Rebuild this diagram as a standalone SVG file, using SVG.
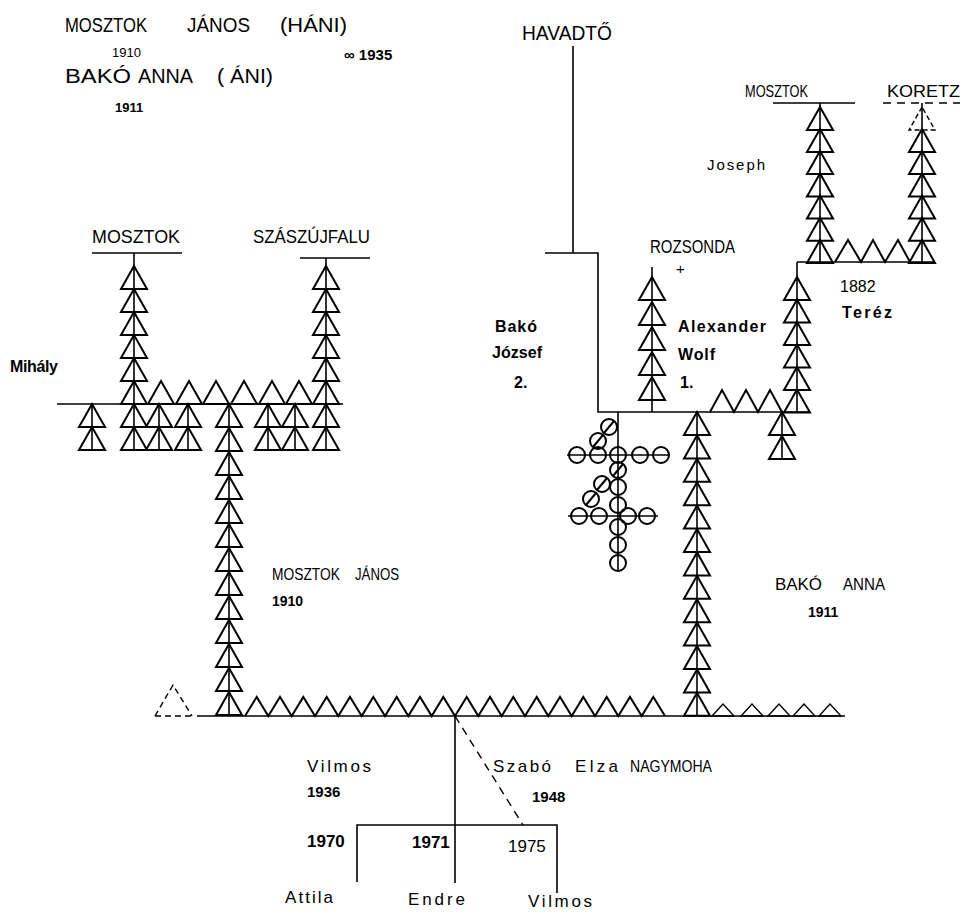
<svg xmlns="http://www.w3.org/2000/svg" width="963" height="916" viewBox="0 0 963 916">
<style>
.tx{font-family:"Liberation Sans",Arial,sans-serif;fill:#000}
.tri{fill:none;stroke:#000;stroke-width:2;stroke-linejoin:miter}
.trs{fill:none;stroke:#000;stroke-width:1.4}
.ln{fill:none;stroke:#000;stroke-width:1.6}
.dash{fill:none;stroke:#000;stroke-width:1.4;stroke-dasharray:8 6}
.cir{fill:none;stroke:#000;stroke-width:2}
</style>
<defs>
<path id="T" class="tri" d="M0,0 L-13,23 L13,23 Z"/>
<path id="Ts" class="trs" d="M0,0 L-11,12 L11,12 Z"/>
<circle id="C" class="cir" r="8"/>
<g id="CS"><circle class="cir" r="8"/><line class="cir" x1="-5" y1="6" x2="5" y2="-6"/></g>
</defs>
<rect width="963" height="916" fill="#fff"/>

<g id="title" class="tx">
<text x="65" y="32" font-size="20" textLength="82" lengthAdjust="spacingAndGlyphs">MOSZTOK</text>
<text x="187" y="32" font-size="20" textLength="63" lengthAdjust="spacingAndGlyphs">JÁNOS</text>
<text x="280" y="32" font-size="20" textLength="67" lengthAdjust="spacingAndGlyphs">(HÁNI)</text>
<text x="112" y="57" font-size="13">1910</text>
<text x="65" y="83" font-size="20" textLength="66" lengthAdjust="spacingAndGlyphs">BAKÓ</text>
<text x="138" y="83" font-size="20" textLength="55" lengthAdjust="spacingAndGlyphs">ANNA</text>
<text x="217" y="83" font-size="20" textLength="56" lengthAdjust="spacingAndGlyphs">( ÁNI)</text>
<text x="115" y="112" font-size="13" font-weight="bold">1911</text>
<text x="344" y="60" font-size="15" font-weight="bold">∞ 1935</text>
</g>

<g id="connectors">
<line class="ln" x1="57" y1="404" x2="343" y2="404"/>
<line class="ln" x1="134" y1="253" x2="134" y2="450"/>
<line class="ln" x1="326" y1="258" x2="326" y2="450"/>
<line class="ln" x1="92" y1="404" x2="92" y2="450"/>
<line class="ln" x1="159" y1="404" x2="159" y2="450"/>
<line class="ln" x1="188" y1="404" x2="188" y2="450"/>
<line class="ln" x1="268" y1="404" x2="268" y2="450"/>
<line class="ln" x1="295" y1="404" x2="295" y2="450"/>
<line class="ln" x1="229" y1="404" x2="229" y2="716"/>
<line class="ln" x1="197" y1="716" x2="845" y2="716"/>
<line class="ln" x1="697" y1="412" x2="697" y2="716"/>
<path class="ln" d="M573,46 V253 M545,253 H598 V412 H810"/>
<line class="ln" x1="652" y1="267" x2="652" y2="412"/>
<line class="ln" x1="797" y1="262" x2="797" y2="412"/>
<line class="ln" x1="782" y1="412" x2="782" y2="459"/>
<line class="ln" x1="797" y1="262" x2="935" y2="262"/>
<line class="ln" x1="820" y1="103" x2="820" y2="262"/>
<line class="ln" x1="922" y1="103" x2="922" y2="262"/>
<line class="ln" x1="618" y1="412" x2="618" y2="570"/>
<line class="ln" x1="567" y1="455" x2="669" y2="455"/>
<line class="ln" x1="568" y1="516" x2="658" y2="516"/>
<line class="ln" x1="455" y1="716" x2="455" y2="883"/>
<line class="dash" x1="455" y1="716" x2="523" y2="825"/>
<path class="ln" d="M357,882 V825 H557 V893"/>
</g>

<g id="mosztok-left">
<line class="ln" x1="92" y1="253" x2="182" y2="253"/>
<text class="tx" x="92" y="243" font-size="18" textLength="88" lengthAdjust="spacingAndGlyphs">MOSZTOK</text>
<use href="#T" x="134" y="266"/><use href="#T" x="134" y="289"/><use href="#T" x="134" y="312"/>
<use href="#T" x="134" y="335"/><use href="#T" x="134" y="358"/><use href="#T" x="134" y="381"/>
</g>

<g id="szaszujfalu">
<line class="ln" x1="300" y1="258" x2="370" y2="258"/>
<text class="tx" x="253" y="243" font-size="18" textLength="117" lengthAdjust="spacingAndGlyphs">SZÁSZÚJFALU</text>
<use href="#T" x="326" y="266"/><use href="#T" x="326" y="289"/><use href="#T" x="326" y="312"/>
<use href="#T" x="326" y="335"/><use href="#T" x="326" y="358"/><use href="#T" x="326" y="381"/>
</g>

<g id="siblings-mihaly">
<text class="tx" x="10" y="372" font-size="16" font-weight="bold" textLength="48">Mihály</text>
<use href="#T" x="161" y="381"/><use href="#T" x="189" y="381"/><use href="#T" x="216" y="381"/>
<use href="#T" x="244" y="381"/><use href="#T" x="272" y="381"/><use href="#T" x="299" y="381"/>
<use href="#T" x="92" y="404"/><use href="#T" x="92" y="427"/>
<use href="#T" x="134" y="404"/><use href="#T" x="134" y="427"/>
<use href="#T" x="159" y="404"/><use href="#T" x="159" y="427"/>
<use href="#T" x="188" y="404"/><use href="#T" x="188" y="427"/>
<use href="#T" x="268" y="404"/><use href="#T" x="268" y="427"/>
<use href="#T" x="295" y="404"/><use href="#T" x="295" y="427"/>
<use href="#T" x="326" y="404"/><use href="#T" x="326" y="427"/>
</g>

<g id="mosztok-janos">
<use href="#T" x="229" y="404"/><use href="#T" x="229" y="428"/><use href="#T" x="229" y="452"/>
<use href="#T" x="229" y="476"/><use href="#T" x="229" y="500"/><use href="#T" x="229" y="524"/>
<use href="#T" x="229" y="548"/><use href="#T" x="229" y="572"/><use href="#T" x="229" y="596"/>
<use href="#T" x="229" y="620"/><use href="#T" x="229" y="644"/><use href="#T" x="229" y="668"/>
<use href="#T" x="229" y="692"/>
<text class="tx" x="272" y="580" font-size="17" textLength="68" lengthAdjust="spacingAndGlyphs">MOSZTOK</text>
<text class="tx" x="355" y="580" font-size="17" textLength="44" lengthAdjust="spacingAndGlyphs">JÁNOS</text>
<text class="tx" x="272" y="606" font-size="14" font-weight="bold">1910</text>
</g>

<g id="generation-row">
<path class="trs" d="M155,716 L173,685 L192,716" stroke-dasharray="6 4"/>
<line class="trs" x1="155" y1="716" x2="192" y2="716" stroke-dasharray="6 4"/>
<polyline class="tri" points="245,716 256.7,697 268.3,716 280,697 291.7,716 303.3,697 315,716 326.7,697 338.3,716 350,697 361.7,716 373.3,697 385,716 396.7,697 408.3,716 420,697 431.7,716 443.3,697 455,716 466.7,697 478.3,716 490,697 501.7,716 513.3,697 525,716 536.7,697 548.3,716 560,697 571.7,716 583.3,697 595,716 606.7,697 618.3,716 630,697 641.7,716 653.3,697 665,716"/>
<use href="#Ts" x="723" y="704"/><use href="#Ts" x="752" y="704"/><use href="#Ts" x="779" y="704"/>
<use href="#Ts" x="804" y="704"/><use href="#Ts" x="830" y="704"/>
</g>

<g id="bako-anna">
<use href="#T" x="697" y="412"/><use href="#T" x="697" y="435.4"/><use href="#T" x="697" y="458.8"/>
<use href="#T" x="697" y="482.2"/><use href="#T" x="697" y="505.6"/><use href="#T" x="697" y="529"/>
<use href="#T" x="697" y="552.4"/><use href="#T" x="697" y="575.8"/><use href="#T" x="697" y="599.2"/>
<use href="#T" x="697" y="622.6"/><use href="#T" x="697" y="646"/><use href="#T" x="697" y="669.4"/>
<use href="#T" x="697" y="692.8"/>
<text class="tx" x="775" y="590" font-size="17" textLength="47" lengthAdjust="spacingAndGlyphs">BAKÓ</text>
<text class="tx" x="843" y="590" font-size="17" textLength="42" lengthAdjust="spacingAndGlyphs">ANNA</text>
<text class="tx" x="808" y="617" font-size="14" font-weight="bold">1911</text>
</g>

<g id="havadto">
<text class="tx" x="522" y="40" font-size="20" textLength="90" lengthAdjust="spacingAndGlyphs">HAVADTŐ</text>
</g>

<g id="bako-jozsef" class="tx" font-size="16" font-weight="bold">
<text x="495" y="332" textLength="42">Bakó</text>
<text x="492" y="358" textLength="50">József</text>
<text x="514" y="388">2.</text>
</g>

<g id="rozsonda">
<text class="tx" x="650" y="253" font-size="18" textLength="85" lengthAdjust="spacingAndGlyphs">ROZSONDA</text>
<text class="tx" x="676" y="274" font-size="15">+</text>
<use href="#T" x="652" y="277"/><use href="#T" x="652" y="302"/><use href="#T" x="652" y="327"/>
<use href="#T" x="652" y="352"/><use href="#T" x="652" y="377"/>
</g>

<g id="alexander-wolf" class="tx" font-size="16" font-weight="bold">
<text x="678" y="332" textLength="88">Alexander</text>
<text x="678" y="360" textLength="37">Wolf</text>
<text x="680" y="388">1.</text>
</g>

<g id="wolf-line">
<polyline class="tri" points="710,412 722,390 734,412 746,390 758,412 770,390 782,412"/>
<use href="#T" x="797" y="277"/><use href="#T" x="797" y="299.5"/><use href="#T" x="797" y="322"/>
<use href="#T" x="797" y="344.5"/><use href="#T" x="797" y="367"/><use href="#T" x="797" y="389.5"/>
<use href="#T" x="782" y="412"/><use href="#T" x="782" y="436"/>
<text class="tx" x="840" y="292" font-size="16">1882</text>
<text class="tx" x="842" y="318" font-size="16" font-weight="bold" textLength="50">Teréz</text>
<polyline class="tri" points="835,262 848,240 861,262 873,240 885,262 898,240 910,262"/>
</g>

<g id="joseph">
<text class="tx" x="707" y="170" font-size="15" textLength="58">Joseph</text>
</g>

<g id="mosztok-right">
<line class="ln" x1="773" y1="103" x2="855" y2="103"/>
<text class="tx" x="745" y="97" font-size="17" textLength="63" lengthAdjust="spacingAndGlyphs">MOSZTOK</text>
<use href="#T" x="820" y="107"/><use href="#T" x="820" y="129"/><use href="#T" x="820" y="151"/>
<use href="#T" x="820" y="173.4"/><use href="#T" x="820" y="195.6"/><use href="#T" x="820" y="217.7"/>
<use href="#T" x="820" y="239.9"/>
</g>

<g id="koretz">
<line class="dash" x1="883" y1="103" x2="960" y2="103"/>
<text class="tx" x="887" y="97" font-size="17" textLength="73" lengthAdjust="spacingAndGlyphs">KORETZ</text>
<path class="trs" d="M922,107 L909,130 L935,130 Z" stroke-dasharray="5 3"/>
<use href="#T" x="922" y="129"/><use href="#T" x="922" y="151"/>
<use href="#T" x="922" y="173.4"/><use href="#T" x="922" y="195.6"/><use href="#T" x="922" y="217.7"/>
<use href="#T" x="922" y="239.9"/>
</g>

<g id="circles">
<use href="#C" x="577" y="455"/><use href="#C" x="598" y="455"/><use href="#C" x="618" y="455"/>
<use href="#C" x="640" y="455"/><use href="#C" x="661" y="455"/>
<use href="#CS" x="609" y="427"/><use href="#CS" x="598" y="441"/>
<use href="#CS" x="618" y="470"/><use href="#C" x="618" y="487"/><use href="#C" x="618" y="505"/>
<use href="#CS" x="602" y="484"/><use href="#CS" x="591" y="499"/>
<use href="#C" x="579" y="516"/><use href="#C" x="599" y="516"/><use href="#C" x="628" y="516"/>
<use href="#C" x="647" y="516"/>
<use href="#C" x="618" y="527"/><use href="#C" x="618" y="545"/><use href="#C" x="618" y="563"/>
</g>

<g id="vilmos" class="tx" font-size="17">
<text x="307" y="772" textLength="64">Vilmos</text>
<text x="307" y="797" font-size="15" font-weight="bold">1936</text>
</g>

<g id="szabo-elza" class="tx" font-size="17">
<text x="493" y="772" textLength="58">Szabó</text>
<text x="575" y="772" textLength="43">Elza</text>
<text x="630" y="772" font-size="17" textLength="82" lengthAdjust="spacingAndGlyphs">NAGYMOHA</text>
<text x="532" y="802" font-size="15" font-weight="bold">1948</text>
</g>

<g id="children" class="tx" font-size="17">
<text x="307" y="847" font-weight="bold">1970</text>
<text x="412" y="848" font-weight="bold">1971</text>
<text x="508" y="852">1975</text>
<text x="285" y="903" textLength="48">Attila</text>
<text x="408" y="905" textLength="57">Endre</text>
<text x="528" y="907" textLength="64">Vilmos</text>
</g>
</svg>
